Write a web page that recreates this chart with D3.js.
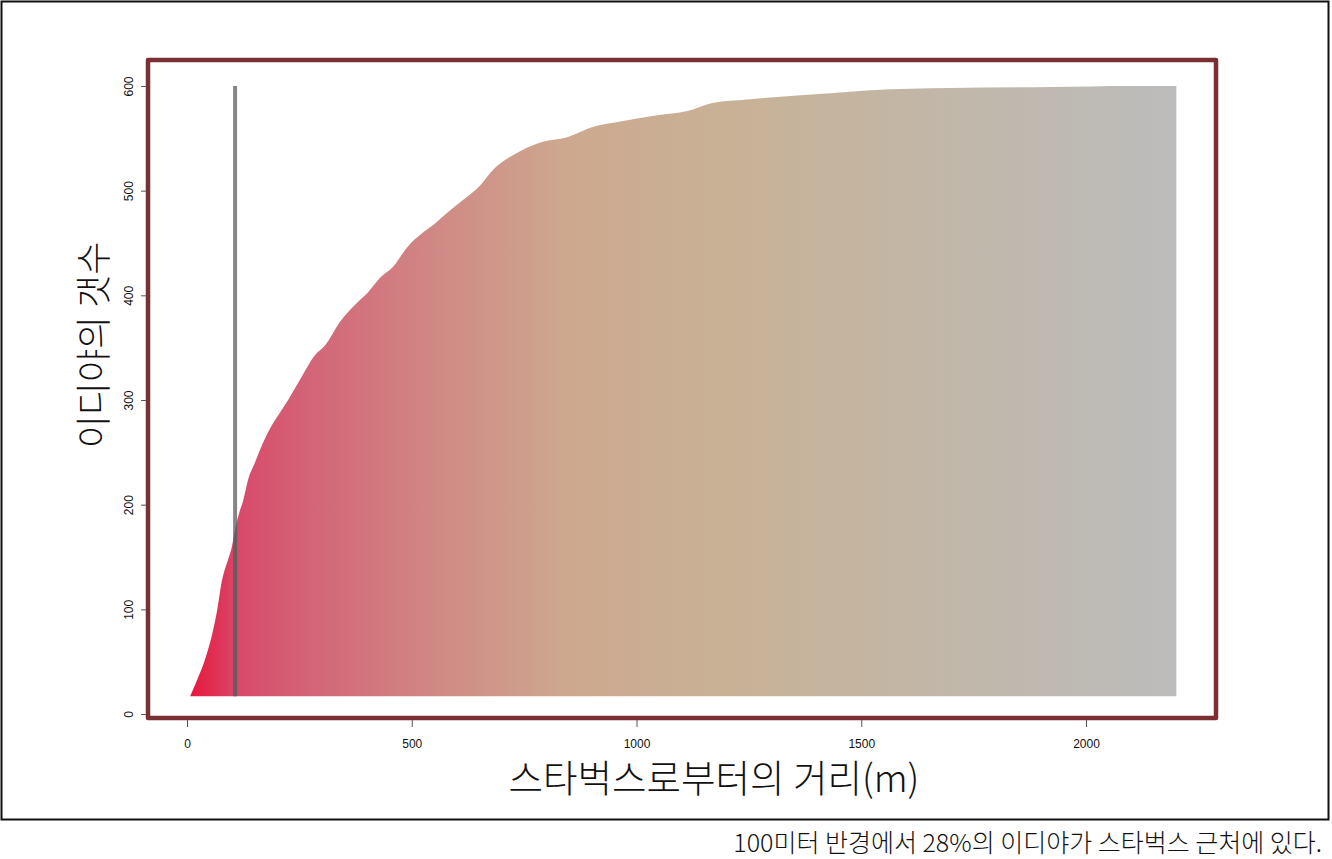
<!DOCTYPE html>
<html>
<head>
<meta charset="utf-8">
<script src="https://cdn.jsdelivr.net/npm/d3@7"></script>
<style>
  html, body { margin: 0; padding: 0; background: #fff; }
  svg { display: block; }
</style>
</head>
<body>
<script>
// ---- data ----
const distances = [7, 22, 40, 58, 67, 78, 82, 91, 100, 107, 116, 125, 136, 151, 167, 185, 207, 225, 251, 285, 307, 341, 374, 403, 430, 458, 490, 525, 541, 579, 614, 652, 681, 726, 786, 846, 904, 964, 1046, 1113, 1171, 1246, 1298, 1431, 1520, 1698, 1921, 2105, 2201];
const counts    = [17, 32, 52, 80, 99, 128, 135, 147, 160, 176, 192, 204, 224, 240, 257, 273, 288, 300, 319, 343, 352, 375, 391, 403, 417, 427, 446, 460, 465, 479, 491, 505, 520, 534, 546, 551, 561, 566, 572, 576, 584, 587, 589, 593, 596, 598, 599, 600, 600];
const baseValue = 17;
const markerDistance = 107;
const markerTop = 600;
const xTicks = [0, 500, 1000, 1500, 2000];
const yTicks = [0, 100, 200, 300, 400, 500, 600];
const gradientOffsets = [0, 0.05, 0.12, 0.25, 0.38, 0.55, 0.78, 1];
const gradientColors  = ["#e8173e", "#d84a6a", "#d36477", "#d08984", "#cda88f", "#c8b296", "#c1b7aa", "#bcbcbc"];
const xTitle = "스타벅스로부터의 거리(m)";
const yTitle = "이디야의 갯수";
const caption = "100미터 반경에서 28%의 이디야가 스타벅스 근처에 있다.";

const W = 1332, H = 859;
const svg = d3.select("body").append("svg").attr("width", W).attr("height", H);

const data = distances.map((d, i) => ({ d, c: counts[i] }));

const x = d3.scaleLinear().domain([0, 2000]).range([187, 1086]);
const y = d3.scaleLinear().domain([0, 600]).range([714, 86]);

// outer black border
svg.append("rect").attr("x", 1.5).attr("y", 1.5).attr("width", 1327).attr("height", 818)
  .attr("fill", "none").attr("stroke", "#111").attr("stroke-width", 2);

const defs = svg.append("defs");
const grad = defs.append("linearGradient").attr("id", "g")
  .attr("gradientUnits", "userSpaceOnUse")
  .attr("x1", x(distances[0])).attr("x2", x(distances[distances.length - 1]))
  .attr("y1", 0).attr("y2", 0);
gradientOffsets.forEach((o, i) => grad.append("stop").attr("offset", o).attr("stop-color", gradientColors[i]));

const area = d3.area().x(p => x(p.d)).y0(y(baseValue)).y1(p => y(p.c)).curve(d3.curveMonotoneX);

defs.append("clipPath").attr("id", "areaClip").append("path").attr("d", area(data));

svg.append("path").attr("d", area(data)).attr("fill", "url(#g)");

// marker line
svg.append("line")
  .attr("x1", x(markerDistance)).attr("x2", x(markerDistance))
  .attr("y1", y(markerTop)).attr("y2", y(baseValue))
  .attr("stroke", "#858585").attr("stroke-width", 4);
svg.append("line")
  .attr("clip-path", "url(#areaClip)")
  .attr("x1", x(markerDistance)).attr("x2", x(markerDistance))
  .attr("y1", y(markerTop)).attr("y2", y(baseValue))
  .attr("stroke", "#6c5a5e").attr("stroke-width", 4);

// frame
svg.append("rect").attr("x", 148).attr("y", 60).attr("width", 1068).attr("height", 658)
  .attr("fill", "none").attr("stroke", "#7a2f33").attr("stroke-width", 4.5)
  .attr("stroke-linejoin", "round");

// x axis
const xa = svg.append("g").attr("transform", "translate(0,720)")
  .call(d3.axisBottom(x).tickValues(xTicks).tickSize(7).tickPadding(12).tickFormat(d3.format("d")));
xa.select(".domain").remove();
xa.selectAll("line").attr("stroke", "#555");
xa.selectAll("text").attr("font-family", "Liberation Sans, Arial, sans-serif").attr("font-size", 12).attr("fill", "#111");

// y axis
const ya = svg.append("g").attr("transform", "translate(146,0)")
  .call(d3.axisLeft(y).tickValues(yTicks).tickSize(5).tickFormat(d3.format("d")));
ya.select(".domain").remove();
ya.selectAll("line").attr("stroke", "#555");
ya.selectAll("text")
  .attr("font-family", "Liberation Sans, Arial, sans-serif").attr("font-size", 12).attr("fill", "#111")
  .attr("x", null).attr("dy", null)
  .attr("text-anchor", "middle")
  .attr("transform", "translate(-13,0) rotate(-90)");

// titles
svg.append("text").attr("x", 714).attr("y", 792).attr("text-anchor", "middle")
  .attr("font-family", "Noto Sans CJK KR, sans-serif").attr("font-weight", 300)
  .attr("font-size", 37.5).attr("fill", "#111").text(xTitle);
svg.append("text").attr("transform", "translate(107,345) rotate(-90)").attr("text-anchor", "middle")
  .attr("font-family", "Noto Sans CJK KR, sans-serif").attr("font-weight", 300)
  .attr("font-size", 36).attr("fill", "#111").text(yTitle);

svg.append("text").attr("x", 1322).attr("y", 852).attr("text-anchor", "end")
  .attr("font-family", "Noto Sans CJK KR, sans-serif").attr("font-weight", 300)
  .attr("font-size", 25).attr("fill", "#111").text(caption);
</script>
</body>
</html>
